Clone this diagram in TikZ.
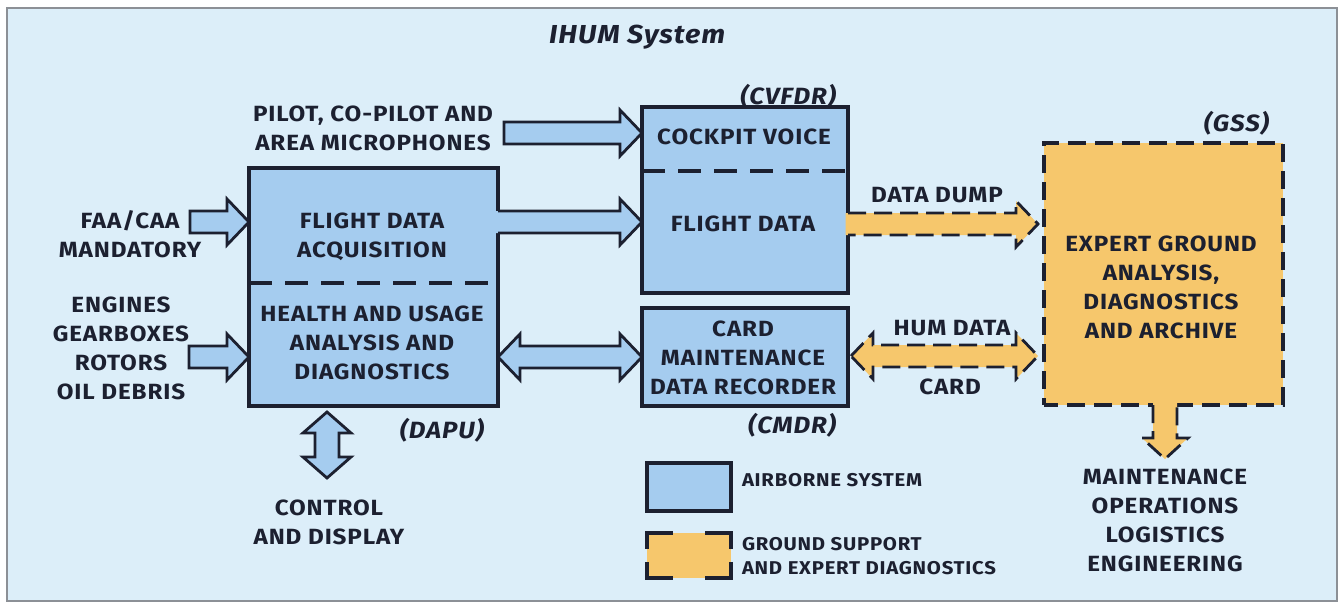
\documentclass[tikz,border=0pt]{standalone}
\usepackage{fontspec}
\setmainfont{Fira Sans}[LetterSpace=4, FakeStretch=1.1]
\usetikzlibrary{calc}

\definecolor{bg}{HTML}{DCEEF9}
\definecolor{boxblue}{HTML}{A5CCEF}
\definecolor{gssorange}{HTML}{F6C76C}
\definecolor{ink}{HTML}{1C2030}
\definecolor{framegray}{HTML}{8C9096}

% block arrow pointing right, closed tail: #1 fill, #2 outline opts, #3 tail, #4 tip
\newcommand\blockR[4]{%
  \filldraw[fill=#1,#2] let \p1=(#3), \p2=(#4) in
    (\x1,\y2+11pt) -- (\x2-22pt,\y2+11pt) -- (\x2-22pt,\y2+23pt) -- (\x2,\y2)
    -- (\x2-22pt,\y2-23pt) -- (\x2-22pt,\y2-11pt) -- (\x1,\y2-11pt) -- cycle;}
% block arrow pointing right, open tail joined to a box edge
\newcommand\blockRopen[4]{%
  \fill[#1] let \p1=(#3), \p2=(#4) in
    (\x1-2.5pt,\y2+11pt) -- (\x2-22pt,\y2+11pt) -- (\x2-22pt,\y2+23pt) -- (\x2,\y2)
    -- (\x2-22pt,\y2-23pt) -- (\x2-22pt,\y2-11pt) -- (\x1-2.5pt,\y2-11pt) -- cycle;
  \draw[#2] let \p1=(#3), \p2=(#4) in
    (\x1,\y2+11pt) -- (\x2-22pt,\y2+11pt) -- (\x2-22pt,\y2+23pt) -- (\x2,\y2)
    -- (\x2-22pt,\y2-23pt) -- (\x2-22pt,\y2-11pt) -- (\x1,\y2-11pt);}
% horizontal double-headed block arrow between two tips
\newcommand\blockLR[4]{%
  \filldraw[fill=#1,#2] let \p1=(#3), \p2=(#4) in
    (\x1,\y1) -- (\x1+22pt,\y1+23pt) -- (\x1+22pt,\y1+11pt) -- (\x2-22pt,\y1+11pt)
    -- (\x2-22pt,\y1+23pt) -- (\x2,\y1) -- (\x2-22pt,\y1-23pt) -- (\x2-22pt,\y1-11pt)
    -- (\x1+22pt,\y1-11pt) -- (\x1+22pt,\y1-23pt) -- cycle;}
% vertical double-headed block arrow, #3 upper tip, #4 lower tip
\newcommand\blockUD[4]{%
  \filldraw[fill=#1,#2] let \p1=(#3), \p2=(#4) in
    (\x1,\y1) -- (\x1+24pt,\y1-21pt) -- (\x1+12pt,\y1-21pt) -- (\x1+12pt,\y2+21pt)
    -- (\x1+24pt,\y2+21pt) -- (\x1,\y2) -- (\x1-24pt,\y2+21pt) -- (\x1-12pt,\y2+21pt)
    -- (\x1-12pt,\y1-21pt) -- (\x1-24pt,\y1-21pt) -- cycle;}
% downward block arrow with open tail joined to a box edge
\newcommand\blockDopen[4]{%
  \fill[#1] let \p1=(#3), \p2=(#4) in
    (\x2-12pt,\y1+2.5pt) -- (\x2-12pt,\y2+21pt) -- (\x2-23pt,\y2+21pt) -- (\x2,\y2)
    -- (\x2+23pt,\y2+21pt) -- (\x2+12pt,\y2+21pt) -- (\x2+12pt,\y1+2.5pt) -- cycle;
  \draw[#2] let \p1=(#3), \p2=(#4) in
    (\x2-12pt,\y1) -- (\x2-12pt,\y2+21pt) -- (\x2-23pt,\y2+21pt) -- (\x2,\y2)
    -- (\x2+23pt,\y2+21pt) -- (\x2+12pt,\y2+21pt) -- (\x2+12pt,\y1);}

\begin{document}
\begin{tikzpicture}[x=1pt,y=-1pt,
  every node/.style={inner sep=0pt, outer sep=0pt, text=ink},
  lbl/.style={font=\bfseries\fontsize{22}{29}\selectfont, align=center},
  small/.style={font=\bfseries\fontsize{18.5}{24}\selectfont, align=left},
  tag/.style={font=\bfseries\itshape\fontsize{23.5}{26}\selectfont, anchor=east},
  bluebox/.style={draw=ink, fill=boxblue, line width=3.3pt, rectangle, anchor=north west},
  gssbox/.style={draw=ink, fill=gssorange, line width=3.3pt, rectangle, anchor=north west,
    dash pattern=on 18pt off 9pt, dash phase=4pt},
  divider/.style={draw=ink, line width=3.3pt, dash pattern=on 23pt off 13pt},
  aline/.style={draw=ink, line width=2.8pt, line join=miter},
  oline/.style={draw=ink, line width=2.8pt, line join=miter, dash pattern=on 18pt off 8pt},
  corner/.style={draw=ink, line width=3.3pt, line cap=rect}
]
% page and frame
\useasboundingbox (0,0) rectangle (1341,602);
\fill[white] (0,0) rectangle (1341,602);
\draw[framegray, line width=1.2pt, fill=bg] (7,8) rectangle (1337,601);

% title
\node[font=\bfseries\itshape\fontsize{26}{30}\selectfont, anchor=west] (title) at (549,37) {IHUM System};

% main boxes
\node[bluebox, minimum width=249, minimum height=238] (dapu) at (249,168) {};
\node[bluebox, minimum width=206, minimum height=186] (cvfdr) at (642,107) {};
\node[bluebox, minimum width=206, minimum height=98] (cmdr) at (642,308) {};
\node[gssbox, minimum width=239, minimum height=262] (gss) at (1044,143) {};

% dashed dividers inside the boxes
\coordinate (dapuL) at (dapu.west |- 0,283);
\coordinate (dapuR) at (dapu.east |- 0,283);
\draw[divider] (dapuL) -- (dapuR);
\coordinate (cvL) at (cvfdr.west |- 0,171);
\coordinate (cvR) at (cvfdr.east |- 0,171);
\draw[divider] (cvL) -- (cvR);

% box texts
\node[lbl] (fda) at (372,237) {FLIGHT DATA\\ACQUISITION};
\node[lbl] (hum) at (372,343) {HEALTH AND USAGE\\ANALYSIS AND\\DIAGNOSTICS};
\node[lbl] (cv) at (744,137) {COCKPIT VOICE};
\node[lbl] (fd) at (743,224) {FLIGHT DATA};
\node[lbl] (card) at (743,358) {CARD\\MAINTENANCE\\DATA RECORDER};
\node[lbl] (expert) at (1161,287) {EXPERT GROUND\\ANALYSIS,\\DIAGNOSTICS\\AND ARCHIVE};

% unit tags
\node[tag] (tcv) at (836,96) {(CVFDR)};
\node[tag] (tdapu) at (484,430) {(DAPU)};
\node[tag] (tcmdr) at (836,425) {(CMDR)};
\node[tag] (tgss) at (1269,123) {(GSS)};

% inputs and outputs
\node[lbl] (mics) at (373,128) {PILOT, CO-PILOT AND\\AREA MICROPHONES};
\node[lbl] (faa) at (130,234) {FAA/CAA\\MANDATORY};
\node[lbl] (eng) at (121,348) {ENGINES\\GEARBOXES\\ROTORS\\OIL DEBRIS};
\node[lbl] (ctrl) at (329,522) {CONTROL\\AND DISPLAY};
\node[lbl] (dump) at (937,195) {DATA DUMP};
\node[lbl] (humdata) at (952,328) {HUM DATA};
\node[lbl] (cardlbl) at (950,387) {CARD};
\node[lbl] (maint) at (1165,520) {MAINTENANCE\\OPERATIONS\\LOGISTICS\\ENGINEERING};

% block arrows (airborne)
\coordinate (micTail) at (504,133);
\coordinate (micTip) at (cvfdr.west |- micTail);
\blockR{boxblue}{aline}{micTail}{micTip}
\coordinate (faaTail) at (190,222);
\coordinate (faaTip) at (dapu.west |- faaTail);
\blockR{boxblue}{aline}{faaTail}{faaTip}
\coordinate (engTail) at (189,357);
\coordinate (engTip) at (dapu.west |- engTail);
\blockR{boxblue}{aline}{engTail}{engTip}
\coordinate (fdaTail) at (dapu.east |- 0,222);
\coordinate (fdaTip) at (cvfdr.west |- 0,222);
\blockRopen{boxblue}{aline}{fdaTail}{fdaTip}
\coordinate (linkL) at (dapu.east |- 0,357);
\coordinate (linkR) at (cmdr.west |- 0,357);
\blockLR{boxblue}{aline}{linkL}{linkR}
\coordinate (ctrlTop) at (327,412);
\coordinate (ctrlBot) at (327,478);
\blockUD{boxblue}{aline}{ctrlTop}{ctrlBot}

% block arrows (ground)
\coordinate (dumpTail) at (cvfdr.east |- 0,224);
\coordinate (dumpTip) at (1038,224);
\blockRopen{gssorange}{oline}{dumpTail}{dumpTip}
\coordinate (hdL) at (851,356);
\coordinate (hdR) at (1038,356);
\blockLR{gssorange}{oline}{hdL}{hdR}
\coordinate (downTail) at (1165,405);
\coordinate (downTip) at (1165,459);
\blockDopen{gssorange}{oline}{downTail}{downTip}

% legend
\node[bluebox, minimum width=84, minimum height=48] (legA) at (647,463) {};
\node[small, anchor=west] (legAtxt) at (742,480) {AIRBORNE SYSTEM};
\node[fill=gssorange, rectangle, anchor=north west, minimum width=84, minimum height=45] (legG) at (647,533) {};
\draw[corner] ([xshift=24pt]legG.north west) -- (legG.north west) -- ([yshift=-14pt]legG.north west);
\draw[corner] ([xshift=-24pt]legG.north east) -- (legG.north east) -- ([yshift=-14pt]legG.north east);
\draw[corner] ([xshift=24pt]legG.south west) -- (legG.south west) -- ([yshift=14pt]legG.south west);
\draw[corner] ([xshift=-24pt]legG.south east) -- (legG.south east) -- ([yshift=14pt]legG.south east);
\node[small, anchor=west] (legGtxt) at (742,556) {GROUND SUPPORT\\AND EXPERT DIAGNOSTICS};
\end{tikzpicture}
\end{document}
